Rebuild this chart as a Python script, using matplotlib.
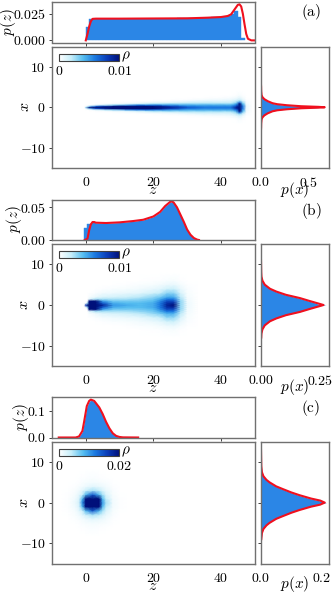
import numpy as np
import matplotlib
matplotlib.use('Agg')
import matplotlib.pyplot as plt
from matplotlib.colors import LinearSegmentedColormap

plt.rcParams['font.family'] = ['cmr10', 'DejaVu Serif']
plt.rcParams['mathtext.fontset'] = 'cm'
plt.rcParams['axes.unicode_minus'] = False

W, H = 333, 594
FS = 10
GRAU = '#707070'
BLAU = '#2b86e6'
ROT = '#f0101e'

# --- panel (a) ---
bins_a = np.arange(0.5, 47)
hist_a = [.013, .0205, .0205, .0205, .0205, .0205, .0205, .0205, .0205, .0205, .0205, .0205,
          .0205, .0205, .0205, .0205, .0205, .0205, .0205, .0205, .0205, .0205, .0205, .0205,
          .0205, .0205, .0205, .0207, .0208, .0208, .0209, .021, .021, .021, .0213, .0215,
          .0215, .0217, .0218, .0218, .022, .0225, .0228, .025, .028, .0225, .002]
zline_a = [0, .5, 1, 1.5, 2, 3, 10, 30, 36, 40, 42, 43, 44, 45, 45.5, 46, 46.5, 47, 47.5, 48, 49, 50]
pline_a = [0, .006, .013, .018, .0203, .0205, .0205, .0208, .0214, .022, .023, .0245, .029, .0335,
           .034, .032, .025, .015, .006, .0015, 0, 0]
xfill_a = [0, .1, .25, .5, .75, 1, 1.5, 2, 2.5, 3, 4, 5.5]
pfill_a = [.66, .58, .4, .25, .16, .11, .065, .032, .013, .005, .002, .001]
xline_a = [0, .1, .25, .5, .75, 1, 1.5, 2, 2.5, 3, 4, 5, 5.5]
pline_xa = [.665, .6, .42, .27, .17, .12, .07, .035, .015, .006, .002, .001, 0]
z_a = [-.3, 0, 1, 3, 8, 15, 20, 25, 30, 35, 40, 43, 44.5, 45.5, 46.5, 47.5, 49]
x_a = [0, .3, .6, .9, 1.2, 1.6, 2, 2.5, 3, 4]
rho_a = [[0, 0, 0, 0, 0, 0, 0, 0, 0, 0],
         [3, 0, 0, 0, 0, 0, 0, 0, 0, 0],
         [10, 3, 0, 0, 0, 0, 0, 0, 0, 0],
         [12, 7, 1, 0, 0, 0, 0, 0, 0, 0],
         [14, 10, 3, .5, 0, 0, 0, 0, 0, 0],
         [16, 12, 6, 1.5, .4, 0, 0, 0, 0, 0],
         [14, 10, 6, 2.5, 1, 0, 0, 0, 0, 0],
         [9, 8, 5, 3, 1.2, .3, 0, 0, 0, 0],
         [7, 6, 4.5, 3, 1.8, .6, .1, 0, 0, 0],
         [6, 5.5, 4.5, 3, 2, 1, .3, 0, 0, 0],
         [6, 5.5, 4.5, 3, 2, 1, .5, .1, 0, 0],
         [6, 5.5, 4.5, 3, 2, 1.2, .6, .2, 0, 0],
         [9, 8, 6, 4.5, 3, 2, 1, .4, .1, 0],
         [20, 16, 12, 10, 7, 3, 1.5, .8, .3, 0],
         [6, 6, 5, 4, 3, 1.5, .8, .3, .1, 0],
         [.8, .8, .7, .5, .4, .2, .1, 0, 0, 0],
         [0, 0, 0, 0, 0, 0, 0, 0, 0, 0]]

# --- panel (b) ---
bins_b = [0, 1]
hist_b = [.018, .025]
zfill_b = [.5, 1, 1.5, 2, 2.5, 3, 6, 10, 14, 17, 20, 22, 23.5, 25, 25.5, 26, 27, 28, 29, 30, 31, 32, 33, 33.5]
pfill_b = [0, .024, .026, .027, .027, .0262, .0257, .0267, .0287, .0307, .0357, .0427, .0517, .058,
           .0585, .057, .0495, .0385, .0275, .0155, .0075, .0025, .0003, 0]
zline_b = [-.3, .5, 1, 1.5, 2, 2.5, 3, 6, 10, 14, 17, 20, 22, 23.5, 25, 25.5, 26, 27, 28, 29, 30, 31,
           32, 33, 33.5]
pline_b = [0, .002, .015, .024, .0275, .0275, .0265, .026, .027, .029, .031, .036, .043, .052, .0585,
           .059, .0575, .05, .039, .028, .016, .008, .003, .0005, 0]
xfill_b = [0, .25, .5, 1, 1.7, 2.5, 3.3, 4, 5, 6, 7, 8, 10.5]
pfill_b_x = [.275, .24, .23, .2, .16, .102, .062, .036, .015, .005, .002, .001, .001]
xline_b = [0, .5, 1, 1.7, 2.5, 3.3, 4, 5, 6, 7, 8, 11]
pline_xb = [.265, .235, .205, .165, .106, .065, .038, .016, .006, .002, .001, 0]
z_b = [-.5, 0, .5, 1, 3, 5, 8, 12, 16, 20, 22, 24, 26, 28, 30, 33]
x_b = [0, .5, 1, 1.5, 2, 3, 4, 5, 6, 8]
rho_b = [[0, 0, 0, 0, 0, 0, 0, 0, 0, 0],
         [8, 0, 0, 0, 0, 0, 0, 0, 0, 0],
         [12, 3, 0, 0, 0, 0, 0, 0, 0, 0],
         [13, 12, 10, 1, .3, 0, 0, 0, 0, 0],
         [14, 12, 10, 2.5, .8, .2, 0, 0, 0, 0],
         [9, 7, 5, 2.5, 1.3, .5, .1, 0, 0, 0],
         [5, 4.5, 3.5, 2.5, 1.5, .6, .2, 0, 0, 0],
         [4.5, 4, 3.5, 2.5, 1.8, .8, .3, .1, 0, 0],
         [4, 4, 3.5, 3, 2.2, 1, .5, .2, 0, 0],
         [4.5, 4.5, 4, 3.5, 3, 1.6, .8, .3, .1, 0],
         [6, 6, 5.5, 4.5, 3.5, 2, 1, .5, .15, 0],
         [9, 8.5, 7.5, 6, 4.5, 3, 1.6, .7, .2, 0],
         [10, 9, 7.5, 6, 4.5, 3, 1.8, .8, .3, 0],
         [3, 3, 3, 2.5, 2.2, 1.4, .8, .4, .1, 0],
         [.6, .6, .5, .5, .4, .3, .2, .1, 0, 0],
         [0, 0, 0, 0, 0, 0, 0, 0, 0, 0]]

# --- panel (c) ---
bins_c = []
hist_c = []
zfill_c = [-3, -2, -1, -.5, .3, 1, 1.5, 2.5, 4, 5, 6, 7, 8, 9, 10, 11]
pfill_c = [0, .003, .023, .057, .117, .138, .143, .138, .113, .088, .058, .033, .014, .005, .001, 0]
zline_c = [-8, -3, -2, -1, -.5, .3, 1, 1.5, 2.5, 4, 5, 6, 7, 8, 9, 10, 11, 15.5]
pline_c = [0, 0, .004, .025, .06, .12, .14, .145, .14, .115, .09, .06, .035, .016, .006, .002, .0005, 0]
xfill_c = [0, .25, .5, 1, 1.8, 2.5, 3.3, 4, 5, 5.6, 6.5, 7.5, 9, 11]
pfill_c_x = [.215, .2, .19, .16, .124, .097, .07, .048, .026, .017, .007, .003, .001, .001]
xline_c = [0, .5, 1, 1.8, 2.5, 3.3, 4, 5, 5.6, 6.5, 7.5, 9, 13]
pline_xc = [.21, .195, .165, .128, .1, .073, .05, .028, .018, .008, .003, .001, 0]
z_c = [-7, -5, -3, -2, -1, 0, 2, 4, 5, 6, 8, 10, 12]
x_c = [0, 1, 2, 3, 4, 5, 6, 8]
rho_c = [[0, 0, 0, 0, 0, 0, 0, 0],
         [.3, .3, .2, .1, 0, 0, 0, 0],
         [1.5, 1.2, .8, .5, .3, .1, 0, 0],
         [3, 2.5, 1.8, 1, .5, .2, .1, 0],
         [11, 8, 3.5, 2, .8, .4, .2, 0],
         [24, 22, 8, 3.5, 1.2, .6, .3, 0],
         [28, 26, 14, 5, 2, .8, .4, .1],
         [24, 20, 8, 4, 1.5, .7, .3, .05],
         [10, 8, 5, 2.5, 1.2, .5, .2, 0],
         [5, 4, 2.5, 1.5, .8, .4, .15, 0],
         [1, .9, .6, .4, .2, .1, 0, 0],
         [.2, .2, .1, .05, 0, 0, 0, 0],
         [0, 0, 0, 0, 0, 0, 0, 0]]

dichte_cmap = LinearSegmentedColormap.from_list(
    'dichte', ['#ffffff', '#c6eefa', '#55bdf0', '#1a78e0', '#0a3cb8', '#00107a'])


def rect(x0, y0, x1, y1):
    # Pixelkoordinaten (von oben) nach Figure-Koordinaten
    return [x0 / W, 1 - y1 / H, (x1 - x0) / W, (y1 - y0) / H]


def ptext(fig, x, y, s, **kw):
    fig.text(x / W, 1 - y / H, s, ha='center', va='center', **kw)


def style(ax):
    for sp in ax.spines.values():
        sp.set_color(GRAU)
        sp.set_linewidth(1.0)
    ax.tick_params(length=2.5, width=.7, color='#404040', labelsize=FS, pad=2)


def spiegeln(x, y, xmin=None):
    xx = np.concatenate([-np.array(x)[:0:-1], x])
    yy = np.concatenate([np.array(y)[:0:-1], y])
    if xmin is not None:
        keep = xx >= xmin
        xx, yy = xx[keep], yy[keep]
    return xx, yy


def panel(fig, y_top, y_main, y_bot, bins, hist, zfill, pfill, zl, pl, ylim_top, yticks_top, ylabels_top,
          xb, pb, xl, plx, xmin_line, xlim_r, xticks_r, xlabels_r, zs, xs, rho, vmax, cb_label,
          name, name_y, zlabel_y, px_y, pz_x, x_x):
    ax_top = fig.add_axes(rect(52, y_top, 254.7, y_top + 40.5))
    ax = fig.add_axes(rect(52, y_main, 254.7, y_bot))
    ax_r = fig.add_axes(rect(261, y_main, 329, y_bot))

    # Verteilung p(z) oben
    if len(bins) > 0:
        ax_top.bar(bins, hist, width=1, color=BLAU, edgecolor=BLAU, linewidth=.3)
    if len(zfill) > 0:
        ax_top.fill_between(zfill, 0, pfill, color=BLAU, linewidth=0)
    ax_top.plot(zl, pl, color=ROT, lw=1.5)
    ax_top.set_xlim(-10, 50)
    ax_top.set_ylim(*ylim_top)
    ax_top.set_xticks([0, 20, 40])
    ax_top.set_xticklabels([])
    ax_top.set_yticks(yticks_top)
    ax_top.set_yticklabels(ylabels_top)
    style(ax_top)

    # Dichte rho(z, x), Tabelle ist symmetrisch in x
    tab = np.array(rho) / 1000.0
    xx = np.concatenate([-np.array(xs)[:0:-1], xs])
    cc = np.hstack([tab[:, :0:-1], tab])
    mesh = ax.pcolormesh(zs, xx, cc.T, shading='gouraud', cmap=dichte_cmap, vmin=0, vmax=vmax)
    ax.set_xlim(-10, 50)
    ax.set_ylim(-15, 15)
    ax.set_xticks([0, 20, 40])
    ax.set_xticklabels(['$0$', '$20$', '$40$'])
    ax.set_yticks([-10, 0, 10])
    ax.set_yticklabels(['$-10$', '$0$', '$10$'])
    style(ax)
    ax.tick_params(axis='x', length=0, pad=6)

    # Farbskala im Bild
    cax = fig.add_axes(rect(59, y_main + 7.3, 119.4, y_main + 14))
    cb = fig.colorbar(mesh, cax=cax, orientation='horizontal')
    cb.set_ticks([0, vmax])
    cb.set_ticklabels(['$0$', cb_label])
    cb.ax.tick_params(length=0, labelsize=FS, pad=3)
    cb.outline.set_edgecolor('#404040')
    cb.outline.set_linewidth(.8)
    ptext(fig, 126, y_main + 10, r'$\rho$', fontsize=FS + 1)

    # Verteilung p(x) rechts
    bx, bp = spiegeln(xb, pb)
    ax_r.fill_betweenx(bx, 0, bp, color=BLAU, linewidth=0)
    lx, lp = spiegeln(xl, plx, xmin_line)
    ax_r.plot(lp, lx, color=ROT, lw=1.5)
    ax_r.set_xlim(0, xlim_r)
    ax_r.set_ylim(-15, 15)
    ax_r.set_xticks(xticks_r)
    ax_r.set_xticklabels(xlabels_r)
    ax_r.set_yticks([-10, 0, 10])
    ax_r.set_yticklabels([])
    style(ax_r)
    ax_r.tick_params(axis='x', length=0, pad=6)

    ptext(fig, 311, name_y, name, fontsize=FS + 1)
    ptext(fig, 153, zlabel_y, '$z$', fontsize=FS + 1.5)
    ptext(fig, 295, px_y, '$p(x)$', fontsize=FS + 1)
    ptext(fig, pz_x, y_top + 20, '$p(z)$', fontsize=FS + 1, rotation=90)
    ptext(fig, x_x, (y_main + y_bot) / 2, '$x$', fontsize=FS + 1.5, rotation=90)


fig = plt.figure(figsize=(W / 100, H / 100), dpi=100)

panel(fig, 2, 46.5, 168, bins_a, hist_a, [], [], zline_a, pline_a, (-.002, .0362), [0, .025],
      ['$0.000$', '$0.025$'], xfill_a, pfill_a, xline_a, pline_xa, -5.5, .71, [0, .5],
      ['$0.0$', '$0.5$'], z_a, x_a, rho_a, .01, '$0.01$',
      r'$\mathrm{(a)}$', 12, 190, 190, 8, 25)
panel(fig, 199.5, 244, 366, bins_b, hist_b, zfill_b, pfill_b, zline_b, pline_b, (0, .062), [0, .05],
      ['$0.00$', '$0.05$'], xfill_b, pfill_b_x, xline_b, pline_xb, -10.5, .288, [0, .25],
      ['$0.00$', '$0.25$'], z_b, x_b, rho_b, .01, '$0.01$',
      r'$\mathrm{(b)}$', 210.5, 388, 387, 14, 24)
panel(fig, 397, 441.7, 563.5, bins_c, hist_c, zfill_c, pfill_c, zline_c, pline_c, (0, .155), [0, .1],
      ['$0.0$', '$0.1$'], xfill_c, pfill_c_x, xline_c, pline_xc, -11.5, .224, [0, .2],
      ['$0.0$', '$0.2$'], z_c, x_c, rho_c, .02, '$0.02$',
      r'$\mathrm{(c)}$', 408, 586, 584.5, 21, 24)

fig.savefig('out.png', dpi=100)
